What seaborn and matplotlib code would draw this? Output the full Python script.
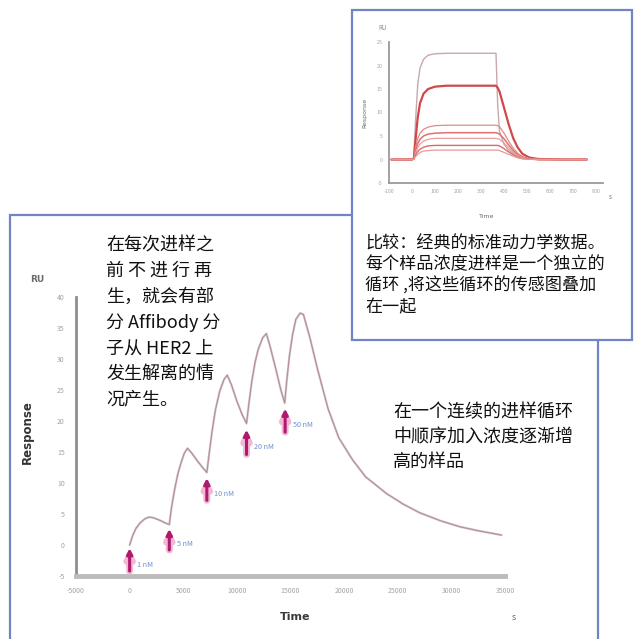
import numpy as np
import pandas as pd
import matplotlib
matplotlib.use("Agg")
import matplotlib.pyplot as plt
from matplotlib.patches import Rectangle
import seaborn as sns

sns.set_style("white")
plt.rcParams['font.family'] = ['Noto Sans CJK SC', 'DejaVu Sans']

# ---------------- main sensorgram data ----------------
main_time = [0, 300, 600, 1000, 1400, 1800, 2200, 2800, 3400, 3700,
             3900, 4200, 4500, 4800, 5100, 5400, 5800, 6300, 6800, 7200,
             7400, 7700, 8000, 8400, 8800, 9100, 9500, 10000, 10500, 10900,
             11100, 11400, 11700, 12000, 12400, 12750, 13100, 13600, 14100, 14460,
             14650, 14900, 15200, 15500, 15900, 16200, 16800, 17500, 18500, 19500,
             20800, 22000, 23950, 25500, 27050, 29000, 30780, 32500, 34680]
main_resp = [0.0, 1.6, 2.7, 3.6, 4.2, 4.5, 4.4, 4.0, 3.5, 3.3,
             6.0, 9.0, 11.5, 13.3, 14.8, 15.6, 14.8, 13.6, 12.5, 11.7,
             14.5, 18.5, 21.8, 24.8, 26.7, 27.4, 25.8, 23.2, 21.0, 19.6,
             22.5, 26.5, 29.5, 31.6, 33.4, 34.1, 32.0, 28.6, 25.0, 22.9,
             26.5, 30.5, 34.0, 36.4, 37.4, 37.2, 33.5, 28.5, 22.0, 17.3,
             13.7, 11.0, 8.3, 6.6, 5.2, 3.9, 2.95, 2.3, 1.6]

inj_time = [0, 3700, 7200, 10900, 14500]
inj_tip = [-0.5, 2.6, 10.8, 18.6, 22.0]
inj_tail = [-4.2, -0.8, 7.2, 14.6, 18.2]
inj_labels = ["1 nM", "5 nM", "10 nM", "20 nM", "50 nM"]

main_xticks = [-5000, 0, 5000, 10000, 15000, 20000, 25000, 30000, 35000]
main_yticks = [-5, 0, 5, 10, 15, 20, 25, 30, 35, 40]

# ---------------- inset (classic kinetics) data ----------------
ins_time = [-90, 0, 8, 15, 25, 35, 50, 70, 100, 150, 250, 365,
            372, 380, 400, 420, 440, 460, 480, 510, 550, 650, 760]
ins_curves = {
    "c7": [0, 0, 0.5, 8, 16, 19.5, 21.3, 22.2, 22.5, 22.6, 22.6, 22.6,
           12, 6, 3.2, 2.0, 1.3, 0.8, 0.4, 0.1, 0, 0, 0],
    "c6": [0, 0, 0.2, 4, 9, 12, 14.0, 15.0, 15.5, 15.7, 15.7, 15.7,
           15.3, 14.5, 11.0, 7.5, 4.5, 2.5, 1.2, 0.4, 0.1, 0, 0],
    "c5": [0, 0, 0.2, 2.5, 4.5, 5.6, 6.4, 6.9, 7.2, 7.3, 7.3, 7.3,
           7.2, 7.0, 5.6, 3.9, 2.4, 1.3, 0.6, 0.2, 0, 0, 0],
    "c4": [0, 0, 0.1, 1.8, 3.4, 4.3, 5.0, 5.4, 5.6, 5.7, 5.7, 5.7,
           5.6, 5.4, 4.4, 3.1, 1.9, 1.0, 0.5, 0.1, 0, 0, 0],
    "c3": [0, 0, 0.1, 1.3, 2.5, 3.3, 3.9, 4.3, 4.5, 4.5, 4.5, 4.5,
           4.4, 4.3, 3.5, 2.5, 1.5, 0.8, 0.4, 0.1, 0, 0, 0],
    "c2": [0, 0, 0.1, 0.9, 1.7, 2.2, 2.6, 2.9, 3.0, 3.0, 3.0, 3.0,
           3.0, 2.9, 2.3, 1.6, 1.0, 0.5, 0.2, 0.05, 0, 0, 0],
    "c1": [0, 0, 0.05, 0.6, 1.1, 1.5, 1.8, 1.9, 2.0, 2.0, 2.0, 2.0,
           2.0, 1.9, 1.5, 1.1, 0.7, 0.35, 0.15, 0.05, 0, 0, 0],
}
ins_colors = {"c7": "#c8a8ab", "c6": "#d24848", "c5": "#e08a8a", "c4": "#e07070",
              "c3": "#e6a0a0", "c2": "#dc6a6a", "c1": "#e39a9a"}
ins_widths = {"c7": 1.0, "c6": 1.6, "c5": 0.9, "c4": 1.1, "c3": 0.9, "c2": 1.0, "c1": 0.9}
ins_xticks = [-100, 0, 100, 200, 300, 400, 500, 600, 700, 800]
ins_yticks = [-5, 0, 5, 10, 15, 20, 25]

# ---------------- texts ----------------
left_lines = ["在每次进样之", "前 不 进 行 再", "生，就会有部", "分 Affibody 分",
              "子从 HER2 上", "发生解离的情", "况产生。"]
right_lines = ["在一个连续的进样循环", "中顺序加入浓度逐渐增", "高的样品"]
box_lines = ["比较：经典的标准动力学数据。", "每个样品浓度进样是一个独立的",
             "循环 ,将这些循环的传感图叠加", "在一起"]

W, H = 636, 639
fig = plt.figure(figsize=(W / 100, H / 100), dpi=100)
fig.patch.set_facecolor("white")


def fx(px):
    return px / W


def fy(py):
    return 1 - py / H


border = "#7284c6"
tick_gray = "#a3a3a3"

# bottom panel border
fig.patches.append(Rectangle((fx(10), fy(660)), fx(598) - fx(10), fy(215) - fy(660),
                             transform=fig.transFigure, fill=False,
                             edgecolor=border, lw=1.6, zorder=1))

# ---------------- main axes ----------------
ax = fig.add_axes([fx(76), fy(576), fx(505) - fx(76), fy(297) - fy(576)])
ax.set_facecolor("none")
df_main = pd.DataFrame({"t": main_time, "r": main_resp})
sns.lineplot(data=df_main, x="t", y="r", ax=ax, color="#cfc7cc", lw=1.6, sort=False)
sns.lineplot(data=df_main, x="t", y="r", ax=ax, color="#b88894", lw=0.7, sort=False)
ax.set_xlim(-5000, 35000)
ax.set_ylim(-5, 40)
ax.set_xticks(main_xticks)
ax.set_yticks(main_yticks)
ax.set_xticklabels([str(v) for v in main_xticks], fontsize=5, color=tick_gray)
ax.set_yticklabels([str(v) for v in main_yticks], fontsize=5, color=tick_gray)
ax.tick_params(axis="both", length=2, width=0.8, color="#b0b0b0", pad=6)
ax.set_xlabel("")
ax.set_ylabel("")
for s in ["top", "right"]:
    ax.spines[s].set_visible(False)
ax.spines["left"].set_color("#8e8e8e")
ax.spines["left"].set_linewidth(2.0)
ax.spines["bottom"].set_color("#bcbcbc")
ax.spines["bottom"].set_linewidth(3.5)

for t, tip, tail, lab in zip(inj_time, inj_tip, inj_tail, inj_labels):
    ax.annotate("", xy=(t, tip), xytext=(t, tail),
                arrowprops=dict(arrowstyle="-|>", color="#f0b8d4", lw=5.0,
                                mutation_scale=10, shrinkA=0, shrinkB=0), zorder=4)
    ax.annotate("", xy=(t, tip), xytext=(t, tail),
                arrowprops=dict(arrowstyle="-|>", color="#b01a6c", lw=2.2,
                                mutation_scale=8, shrinkA=0, shrinkB=0), zorder=5)
    ax.text(t + 700, (tip + tail) / 2 - 0.8, lab, fontsize=5.2, color="#6f8fcf",
            ha="left", va="center", zorder=5)

fig.text(fx(37), fy(280), "RU", fontsize=6.5, color="#6a6a6a", weight="bold",
         ha="center", va="center", family="DejaVu Sans")
fig.text(fx(27), fy(432), "Response", fontsize=8.5, color="#333333", rotation=90,
         weight="bold", ha="center", va="center", family="DejaVu Sans")
fig.text(fx(295), fy(617), "Time", fontsize=8, color="#3a3a3a", weight="bold",
         ha="center", va="center", family="DejaVu Sans")
fig.text(fx(514), fy(618), "s", fontsize=6.5, color="#6a6a6a", ha="center", va="center")

# left and right texts
for i, line in enumerate(left_lines):
    fig.text(fx(106), fy(245 + i * 25.8), line, fontsize=13, color="#111111",
             ha="left", va="center")
for i, line in enumerate(right_lines):
    fig.text(fx(393), fy(412 + i * 25), line, fontsize=13, color="#111111",
             ha="left", va="center")

# ---------------- top box ----------------
fig.patches.append(Rectangle((fx(352), fy(340)), fx(632) - fx(352), fy(10) - fy(340),
                             transform=fig.transFigure, facecolor="white",
                             edgecolor=border, lw=1.6, zorder=2))

ax2 = fig.add_axes([fx(389), fy(183), fx(603) - fx(389), fy(42) - fy(183)], zorder=3)
ax2.set_facecolor("none")
for key, vals in ins_curves.items():
    dfi = pd.DataFrame({"t": ins_time, "r": vals})
    sns.lineplot(data=dfi, x="t", y="r", ax=ax2, color=ins_colors[key],
                 lw=ins_widths[key], sort=False)
ax2.set_xlim(-100, 830)
ax2.set_ylim(-5, 25)
ax2.set_xticks(ins_xticks)
ax2.set_yticks(ins_yticks)
ax2.set_xticklabels([str(v) for v in ins_xticks], fontsize=3.8, color=tick_gray)
ax2.set_yticklabels([str(v) for v in ins_yticks], fontsize=3.8, color=tick_gray)
ax2.tick_params(axis="both", length=1.5, width=0.6, color="#b0b0b0", pad=3)
ax2.set_xlabel("")
ax2.set_ylabel("")
for s in ["top", "right"]:
    ax2.spines[s].set_visible(False)
for s in ["left", "bottom"]:
    ax2.spines[s].set_color("#9a9a9a")
    ax2.spines[s].set_linewidth(1.3)

fig.text(fx(383), fy(28), "RU", fontsize=4.5, color="#8a8a8a", ha="center", va="center", zorder=4)
fig.text(fx(365), fy(113), "Response", fontsize=4.5, color="#6a6a6a", rotation=90,
         ha="center", va="center", zorder=4, family="DejaVu Sans")
fig.text(fx(487), fy(217), "Time", fontsize=4.5, color="#6a6a6a",
         ha="center", va="center", zorder=4, family="DejaVu Sans")
fig.text(fx(610), fy(197), "s", fontsize=4.5, color="#6a6a6a", ha="center", va="center", zorder=4)

for i, line in enumerate(box_lines):
    fig.text(fx(365), fy(243 + i * 21.5), line, fontsize=12.3, color="#111111",
             ha="left", va="center", zorder=4)

fig.savefig("out.png", dpi=100, facecolor="white")
